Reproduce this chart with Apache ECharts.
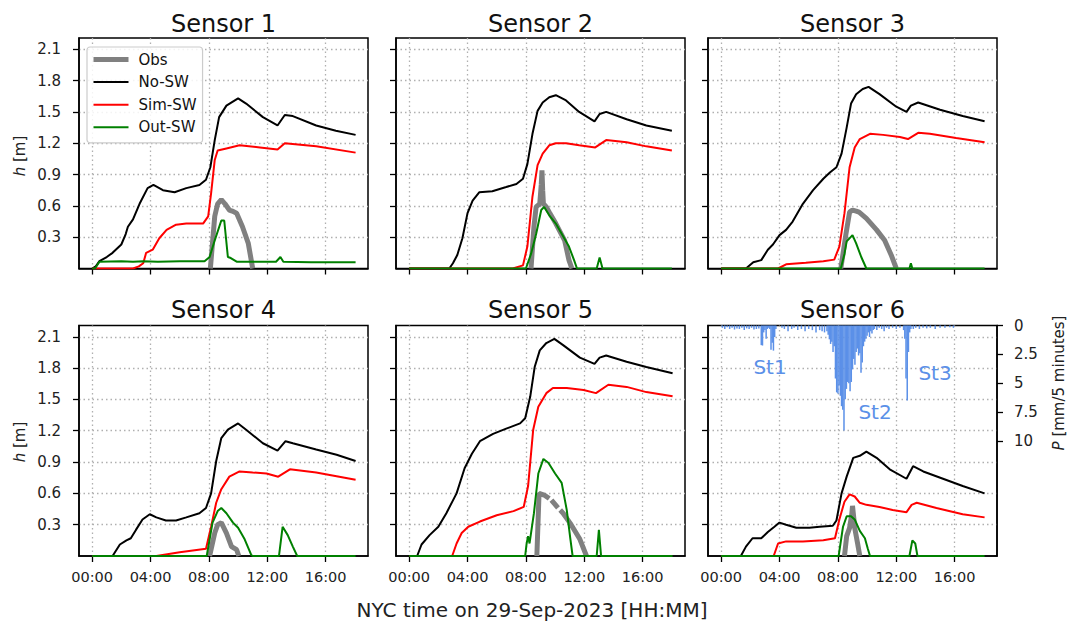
<!DOCTYPE html>
<html>
<head>
<meta charset="utf-8">
<script src="https://cdn.jsdelivr.net/npm/echarts@6/dist/echarts.min.js"></script>
<style>
html,body{margin:0;padding:0;background:#fff;}
#chart{width:1069px;height:626px;}
</style>
</head>
<body>
<div id="chart"></div>
<script>
// ---------- tick labels ----------
const xTickHours = [0, 4, 8, 12, 16];
const xTickLabels = ['00:00', '04:00', '08:00', '12:00', '16:00'];
const yTicks = [0.3, 0.6, 0.9, 1.2, 1.5, 1.8, 2.1];
const yTickLabels = ['0.3', '0.6', '0.9', '1.2', '1.5', '1.8', '2.1'];
const pTicks = [0, 2.5, 5, 7.5, 10];
const pTickLabels = ['0', '2.5', '5', '7.5', '10'];
const panelTitles = ['Sensor 1', 'Sensor 2', 'Sensor 3', 'Sensor 4', 'Sensor 5', 'Sensor 6'];
const seriesNames = ['Obs', 'No-SW', 'Sim-SW', 'Out-SW'];
const stormLabels = ['St1', 'St2', 'St3'];

// ---------- data: [hour of day, h (m)] ----------
const s1Obs = [[8.1,0],[8.4,0.5],[8.6,0.62],[8.85,0.66],[9.1,0.62],[9.4,0.56],[9.6,0.55],[9.9,0.53],[10.3,0.4],[10.7,0.24],[11.0,0]];
const s1NoSW = [[0,0],[0.25,0.02],[0.5,0.07],[1.0,0.11],[1.4,0.15],[2.0,0.23],[2.3,0.33],[2.45,0.4],[2.8,0.47],[3.25,0.62],[3.8,0.77],[4.2,0.8],[4.85,0.75],[5.65,0.73],[6.45,0.77],[7.35,0.8],[7.8,0.85],[8.1,0.97],[8.4,1.23],[8.7,1.45],[9.2,1.56],[10.0,1.63],[10.55,1.58],[11.7,1.45],[12.7,1.37],[13.2,1.47],[13.75,1.46],[15.35,1.37],[16.7,1.32],[18.05,1.28]];
const s1SimSW = [[0,0],[2.8,0],[3.2,0.02],[3.5,0.05],[3.7,0.15],[4.15,0.18],[4.6,0.29],[5.1,0.37],[5.75,0.42],[6.45,0.43],[7.6,0.43],[7.95,0.5],[8.15,0.72],[8.4,1.04],[8.6,1.13],[9.2,1.15],[10.1,1.18],[11.5,1.16],[12.7,1.14],[13.2,1.2],[15.35,1.17],[18.05,1.11]];
const s1OutSW = [[0,0],[0.2,0],[0.5,0.065],[2.0,0.07],[2.8,0.065],[3.5,0.07],[4.5,0.065],[6.0,0.07],[7.7,0.07],[8.05,0.11],[8.4,0.27],[8.85,0.46],[9.05,0.46],[9.3,0.11],[9.5,0.1],[9.9,0.065],[12.6,0.065],[12.9,0.11],[13.1,0.065],[15.0,0.06],[18.05,0.06]];

const s2Obs = [[8.35,0],[8.55,0.4],[8.7,0.59],[8.95,0.62],[9.05,0.8],[9.1,0.94],[9.15,0.75],[9.2,0.62],[9.4,0.59],[9.6,0.54],[10.05,0.43],[10.65,0.27],[10.95,0.08],[11.15,0]];
const s2NoSW = [[0,0],[2.75,0],[3.0,0.05],[3.3,0.13],[3.65,0.29],[4.0,0.53],[4.35,0.65],[4.8,0.73],[5.7,0.74],[6.65,0.78],[7.35,0.81],[7.8,0.86],[8.1,1.0],[8.45,1.29],[8.8,1.51],[9.15,1.59],[9.6,1.64],[10.05,1.66],[10.75,1.61],[11.65,1.5],[12.7,1.41],[13.05,1.48],[13.5,1.5],[14.9,1.43],[16.25,1.37],[18.0,1.32]];
const s2SimSW = [[0,0],[7.1,0],[7.8,0.03],[8.1,0.21],[8.45,0.69],[8.8,0.99],[9.15,1.1],[9.6,1.18],[10.05,1.2],[10.75,1.2],[11.65,1.18],[12.75,1.16],[13.5,1.23],[14.9,1.21],[16.25,1.17],[18.0,1.13]];
const s2OutSW = [[0,0],[8.0,0],[8.35,0.14],[8.7,0.33],[9.05,0.56],[9.25,0.59],[9.6,0.51],[10.05,0.43],[10.5,0.32],[10.95,0.21],[11.3,0.08],[11.5,0],[12.85,0],[13.05,0.105],[13.25,0],[18.0,0]];

const s3Obs = [[8.2,0],[8.55,0.33],[8.8,0.54],[9.0,0.56],[9.25,0.55],[9.45,0.54],[9.95,0.48],[10.65,0.37],[11.2,0.27],[11.65,0.13],[12.0,0]];
const s3NoSW = [[0,0],[1.7,0],[2.2,0.06],[2.75,0.08],[3.2,0.18],[3.55,0.23],[4.0,0.32],[4.45,0.37],[4.9,0.45],[5.6,0.62],[6.3,0.75],[7.0,0.86],[7.45,0.92],[7.9,0.97],[8.25,1.1],[8.6,1.35],[8.9,1.58],[9.25,1.67],[9.7,1.72],[10.1,1.74],[10.85,1.67],[12.0,1.55],[12.7,1.5],[13.0,1.56],[13.5,1.59],[15.0,1.52],[16.55,1.46],[18.05,1.41]];
const s3SimSW = [[0,0],[3.9,0],[4.45,0.04],[5.8,0.055],[7.0,0.07],[7.75,0.085],[8.1,0.21],[8.45,0.53],[8.8,0.97],[9.15,1.16],[9.5,1.24],[10.2,1.29],[11.1,1.28],[12.25,1.26],[12.8,1.24],[13.5,1.3],[14.3,1.29],[16.1,1.25],[18.05,1.21]];
const s3OutSW = [[0,0],[8.2,0],[8.45,0.14],[8.6,0.26],[9.0,0.32],[9.25,0.24],[9.6,0.11],[9.95,0],[12.9,0],[13.0,0.05],[13.1,0],[18.05,0]];

const s4Obs = [[8.05,0],[8.4,0.22],[8.6,0.3],[8.85,0.32],[9.2,0.22],[9.55,0.09],[9.9,0.06],[10.05,0]];
const s4NoSW = [[0,0],[1.4,0],[1.9,0.11],[2.35,0.15],[2.65,0.17],[3.0,0.25],[3.45,0.35],[3.95,0.4],[4.4,0.37],[5.05,0.34],[5.75,0.34],[6.45,0.37],[7.35,0.41],[7.8,0.46],[8.15,0.6],[8.5,0.91],[8.85,1.13],[9.3,1.21],[10.0,1.27],[10.55,1.21],[11.7,1.08],[12.7,1.01],[13.25,1.1],[13.75,1.08],[15.35,1.02],[16.75,0.97],[18.05,0.91]];
const s4SimSW = [[0,0],[4.4,0],[6.0,0.035],[7.8,0.07],[8.15,0.28],[8.5,0.51],[8.85,0.64],[9.4,0.76],[10.1,0.81],[11.0,0.8],[11.95,0.79],[12.75,0.76],[13.55,0.83],[15.35,0.8],[18.05,0.73]];
const s4OutSW = [[0,0],[7.85,0],[8.25,0.32],[8.6,0.43],[8.85,0.46],[9.2,0.41],[9.65,0.32],[10.0,0.27],[10.45,0.16],[10.9,0.01],[11.0,0],[12.8,0],[13.05,0.28],[13.4,0.2],[13.75,0.09],[14.05,0],[18.05,0]];

const s5Obs = [[8.75,0],[8.9,0.6],[9.3,0.58],[9.6,0.55],[9.65,null],[9.75,0.535],[10.2,0.46],[10.25,null],[10.35,0.44],[10.55,0.41],[11.1,0.3],[11.7,0.16],[12.15,0]];
const s5NoSW = [[0,0],[0.55,0],[0.85,0.11],[1.4,0.2],[2.0,0.28],[2.55,0.41],[3.25,0.6],[3.8,0.84],[4.3,0.98],[4.85,1.1],[5.75,1.17],[6.65,1.22],[7.6,1.27],[7.95,1.32],[8.3,1.53],[8.6,1.81],[8.95,1.97],[9.4,2.04],[9.95,2.08],[10.55,2.02],[11.7,1.9],[12.7,1.84],[13.05,1.9],[13.5,1.92],[14.9,1.86],[16.25,1.81],[18.05,1.75]];
const s5SimSW = [[0,0],[2.95,0],[3.25,0.12],[3.6,0.22],[4.05,0.28],[4.85,0.33],[6.0,0.39],[7.15,0.43],[7.85,0.47],[8.15,0.67],[8.5,1.21],[8.85,1.43],[9.4,1.56],[9.85,1.61],[10.8,1.61],[11.95,1.59],[12.8,1.56],[13.65,1.64],[14.9,1.62],[16.25,1.57],[18.05,1.53]];
const s5OutSW = [[0,0],[7.95,0],[8.05,0.12],[8.15,0.19],[8.25,0.12],[8.55,0.41],[8.85,0.79],[9.2,0.93],[9.55,0.89],[10.0,0.79],[10.45,0.7],[10.8,0.44],[11.05,0.16],[11.2,0],[12.85,0],[13.0,0.25],[13.15,0],[18.05,0]];

const s6Obs = [[8.45,0],[8.6,0.19],[8.8,0.27],[8.95,0.4],[9.0,0.48],[9.1,0.35],[9.15,0.27],[9.35,0.12],[9.5,0]];
const s6NoSW = [[0,0],[1.35,0],[1.7,0.09],[2.15,0.17],[2.75,0.17],[3.2,0.23],[3.65,0.28],[4.0,0.32],[4.45,0.3],[5.15,0.27],[6.05,0.27],[6.75,0.28],[7.65,0.29],[7.9,0.34],[8.25,0.6],[8.6,0.76],[9.05,0.94],[9.5,0.96],[9.95,1.0],[10.65,0.94],[11.55,0.83],[12.7,0.74],[13.15,0.86],[13.85,0.81],[15.2,0.74],[16.55,0.67],[18.05,0.6]];
const s6SimSW = [[0,0],[3.6,0],[3.9,0.12],[4.45,0.14],[5.6,0.14],[7.0,0.15],[7.8,0.17],[8.1,0.35],[8.45,0.52],[8.8,0.59],[9.15,0.57],[9.5,0.51],[9.95,0.49],[10.85,0.47],[11.75,0.44],[12.7,0.42],[13.05,0.49],[13.4,0.51],[14.75,0.46],[16.55,0.4],[18.05,0.37]];
const s6OutSW = [[0,0],[8.05,0],[8.35,0.28],[8.6,0.38],[8.9,0.38],[9.15,0.35],[9.5,0.24],[9.85,0.17],[10.05,0.07],[10.2,0],[12.9,0],[13.1,0.15],[13.3,0.12],[13.45,0],[18.05,0]];

// ---------- precipitation: [minute of day, mm per 5 minutes] ----------
const precip = [
 [5,0.2],[15,0.3],[25,0.15],[35,0.3],[45,0.2],[55,0.35],[65,0.25],[75,0.3],[85,0.2],[95,0.4],[105,0.25],[115,0.3],[125,0.2],[135,0.35],[145,0.3],[155,0.25],
 [165,1.7],[170,1.74],[175,0.6],[180,0.4],[185,1.16],[190,0.3],[195,0.2],[200,0.3],[205,2.1],[210,1.5],[215,2.18],[220,1.0],[225,0.3],
 [250,0.2],[260,0.3],[275,0.5],[290,0.3],[300,0.2],[315,0.4],[330,0.3],[345,0.5],[360,0.3],[375,0.4],[390,0.6],[405,0.4],[415,0.5],[425,0.6],[435,0.5],
 [440,0.8],[445,1.2],[450,1.6],[455,1.4],[460,2.3],[465,1.8],[470,4.6],[475,5.8],[480,5.9],[485,5.2],[490,6.1],[495,7.0],[500,7.3],[505,9.1],[510,6.4],[515,5.5],[520,4.9],[525,5.0],[530,5.7],[535,4.9],[540,3.8],[545,2.9],[550,3.4],[555,2.3],[560,2.0],[565,2.6],[570,2.4],[575,4.1],[580,3.2],[585,1.8],[590,1.4],[595,1.16],[600,0.9],[605,0.6],[610,1.0],[615,0.5],[620,0.7],[625,0.4],[630,0.3],
 [640,0.4],[650,0.2],[660,0.3],[670,0.5],[680,0.2],[690,0.3],[705,0.2],[720,0.3],[735,0.2],[750,0.4],
 [755,1.16],[760,4.6],[765,6.5],[770,2.3],[775,0.6],[780,0.3],
 [790,0.3],[800,0.2],[815,0.3],[830,0.2],[845,0.25],[860,0.2],[880,0.3],[900,0.2],[920,0.2],[940,0.15],[955,0.2]
];

const sensors = [
  {obs: s1Obs, no: s1NoSW, sim: s1SimSW, out: s1OutSW},
  {obs: s2Obs, no: s2NoSW, sim: s2SimSW, out: s2OutSW},
  {obs: s3Obs, no: s3NoSW, sim: s3SimSW, out: s3OutSW},
  {obs: s4Obs, no: s4NoSW, sim: s4SimSW, out: s4OutSW},
  {obs: s5Obs, no: s5NoSW, sim: s5SimSW, out: s5OutSW},
  {obs: s6Obs, no: s6NoSW, sim: s6SimSW, out: s6OutSW}
];

// ---------- layout ----------
const FONT = 'DejaVu Sans';
const lefts = [79, 396, 708];
const tops = [38, 325.5];
const W = 289, H = 230.5;
const BLUE = '#5b90e8';

const grids = [], xAxes = [], yAxes = [], series = [], graphics = [];
const dotted = {type: [1.5, 3], color: '#b0b0b0', width: 1.3};

function findLabel(v, vals, labels) {
  for (let i = 0; i < vals.length; i++) if (Math.abs(v - vals[i]) < 1e-6) return labels[i];
  return '';
}

for (let p = 0; p < 6; p++) {
  const row = Math.floor(p / 3), col = p % 3;
  grids.push({left: lefts[col], top: tops[row], width: W, height: H,
    show: true, borderColor: '#000', borderWidth: 1.5, backgroundColor: '#fff'});
  xAxes.push({
    gridIndex: p, type: 'value', min: -0.9, max: 18.9,
    axisLine: {show: true, onZero: false, lineStyle: {color: '#000', width: 1.5}},
    axisTick: {show: true, inside: false, length: 6, customValues: xTickHours, lineStyle: {color: '#000', width: 1.3}},
    axisLabel: {show: row === 1, customValues: xTickHours, margin: 13, fontSize: 14.5, fontFamily: FONT, color: '#222',
      formatter: v => findLabel(v, xTickHours, xTickLabels)},
    splitLine: {show: true, lineStyle: dotted}
  });
  yAxes.push({
    gridIndex: p, type: 'value', min: 0, max: 2.208,
    axisLine: {show: true, onZero: false, lineStyle: {color: '#000', width: 1.5}},
    axisTick: {show: true, inside: false, length: 6, customValues: yTicks, lineStyle: {color: '#000', width: 1.3}},
    axisLabel: {show: col === 0, customValues: yTicks, margin: 18, fontSize: 15, fontFamily: FONT, color: '#222',
      formatter: v => findLabel(v, yTicks, yTickLabels)},
    splitLine: {show: true, lineStyle: dotted}
  });
}
// secondary precipitation axis on panel 6
yAxes.push({
  gridIndex: 5, type: 'value', position: 'right', inverse: true, min: 0, max: 20,
  axisLine: {show: true, onZero: false, lineStyle: {color: '#000', width: 1.5}},
  axisTick: {show: true, inside: false, length: 6, customValues: pTicks, lineStyle: {color: '#000', width: 1.3}},
  axisLabel: {show: true, customValues: pTicks, margin: 17, fontSize: 15, fontFamily: FONT, color: '#222',
    formatter: v => findLabel(v, pTicks, pTickLabels)},
  splitLine: {show: false}
});

// precipitation bars first (underneath)
series.push({
  type: 'bar', name: 'P', xAxisIndex: 5, yAxisIndex: 6,
  data: precip.map(d => [d[0] / 60, d[1]]),
  barWidth: 1.5, itemStyle: {color: BLUE}, silent: true, z: 1
});

sensors.forEach((s, p) => {
  const base = {type: 'line', xAxisIndex: p, yAxisIndex: p, symbol: 'none', showSymbol: false, smooth: false, connectNulls: false};
  series.push(Object.assign({}, base, {name: seriesNames[0], data: s.obs, lineStyle: {color: '#808080', width: 5}, itemStyle: {color: '#808080'}, z: 2}));
  series.push(Object.assign({}, base, {name: seriesNames[1], data: s.no, lineStyle: {color: '#000000', width: 2}, itemStyle: {color: '#000000'}, z: 3}));
  series.push(Object.assign({}, base, {name: seriesNames[2], data: s.sim, lineStyle: {color: '#ff0000', width: 2}, itemStyle: {color: '#ff0000'}, z: 4}));
  series.push(Object.assign({}, base, {name: seriesNames[3], data: s.out, lineStyle: {color: '#008000', width: 2}, itemStyle: {color: '#008000'}, z: 5}));
});

// titles
for (let p = 0; p < 6; p++) {
  const row = Math.floor(p / 3), col = p % 3;
  graphics.push({type: 'text', x: lefts[col] + W / 2, y: row === 0 ? 24 : 310,
    style: {text: panelTitles[p], fontSize: 24, fontFamily: FONT, fill: '#111', align: 'center', verticalAlign: 'middle'}});
}
// y axis names
[156, 442].forEach(cy => {
  graphics.push({type: 'text', x: 20, y: cy, rotation: Math.PI / 2,
    style: {text: '{i|h} [m]', fontSize: 15, fontFamily: FONT, fill: '#222', align: 'center', verticalAlign: 'middle',
      rich: {i: {fontStyle: 'italic', fontSize: 15, fontFamily: FONT, fill: '#222'}}}});
});
graphics.push({type: 'text', x: 1059, y: 383, rotation: Math.PI / 2,
  style: {text: '{i|P} [mm/5 minutes]', fontSize: 15, fontFamily: FONT, fill: '#222', align: 'center', verticalAlign: 'middle',
    rich: {i: {fontStyle: 'italic', fontSize: 15, fontFamily: FONT, fill: '#222'}}}});
// x axis name
graphics.push({type: 'text', x: 532, y: 610,
  style: {text: 'NYC time on 29-Sep-2023 [HH:MM]', fontSize: 20, fontFamily: FONT, fill: '#222', align: 'center', verticalAlign: 'middle'}});
// storm labels
const stormPos = [[770, 367], [875, 412], [935, 373]];
stormLabels.forEach((t, i) => {
  graphics.push({type: 'text', x: stormPos[i][0], y: stormPos[i][1], z: 100,
    style: {text: t, fontSize: 20, fontFamily: FONT, fill: BLUE, align: 'center', verticalAlign: 'middle'}});
});

const chart = echarts.init(document.getElementById('chart'), null, {renderer: 'svg'});
chart.setOption({
  animation: false,
  backgroundColor: '#fff',
  textStyle: {fontFamily: FONT},
  grid: grids, xAxis: xAxes, yAxis: yAxes, series: series, graphic: graphics,
  legend: {
    show: true, data: seriesNames, orient: 'vertical', left: 87, top: 47,
    padding: [5, 6, 8, 4], itemWidth: 35, itemHeight: 14, itemGap: 7.6,
    itemStyle: {opacity: 0},
    lineStyle: {width: 'inherit'},
    backgroundColor: 'rgba(255,255,255,0.85)', borderColor: '#cccccc', borderWidth: 1.2, borderRadius: 3,
    textStyle: {fontSize: 15, fontFamily: FONT, color: '#111', lineHeight: 14, padding: [0, 0, 0, 5]},
    selectedMode: false, z: 50
  }
});
</script>
</body>
</html>
